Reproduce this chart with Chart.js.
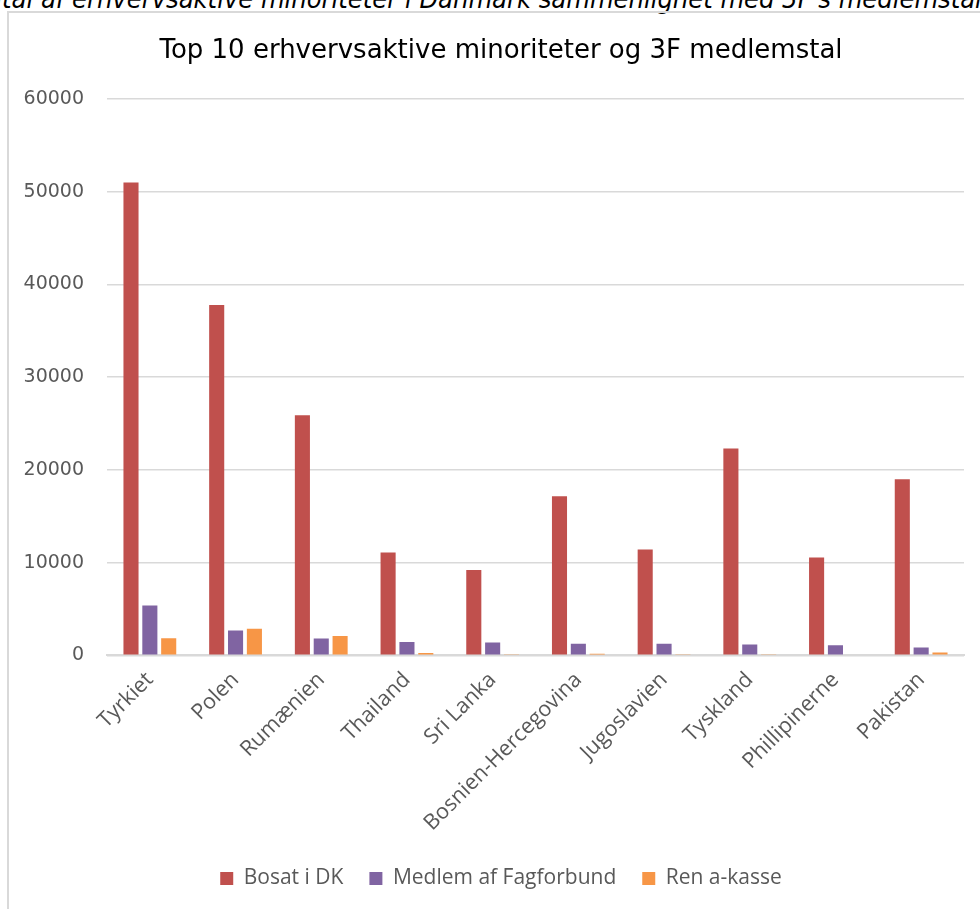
<!DOCTYPE html>
<html>
<head>
<meta charset="utf-8">
<script src="https://cdn.jsdelivr.net/npm/chart.js@4"></script>
<style>
  body { margin: 0; background: #fff; overflow: hidden; }
  #caption {
    position: absolute; left: -30px; top: -15px; white-space: nowrap;
    font-family: "DejaVu Sans Condensed", "DejaVu Sans"; font-style: italic;
    font-size: 27px; line-height: 27px; color: #000;
  }
  #frame {
    position: absolute; left: 7px; top: 11px; width: 1000px; height: 920px;
    border: 2px solid #d9d9d9;
  }
  #wrap { position: absolute; left: 0; top: 0; width: 973px; height: 898px; }
</style>
</head>
<body>
<div id="caption">Antal af erhvervsaktive minoriteter i Danmark sammenlignet med 3F's medlemstal</div>
<div id="frame">
  <div id="wrap"><canvas id="grafica"></canvas></div>
</div>
<script>
var lande = ['Tyrkiet', 'Polen', 'Rumænien', 'Thailand', 'Sri Lanka', 'Bosnien-Hercegovina', 'Jugoslavien', 'Tyskland', 'Phillipinerne', 'Pakistan'];
var bosatIDK = [51000, 37800, 25900, 11100, 9200, 17150, 11400, 22300, 10550, 19000];
var medlemFagforbund = [5360, 2680, 1800, 1440, 1370, 1250, 1250, 1160, 1080, 830];
var renAkasse = [1830, 2850, 2080, 250, 60, 150, 60, 60, 80, 300];
var yTicks = [0, 10000, 20000, 30000, 40000, 50000, 60000];

var fnt = '"Open Sans", sans-serif';
var ctx = document.getElementById('grafica').getContext('2d');
var chart = new Chart(ctx, {
    type: 'bar',
    data: {
        labels: lande,
        datasets: [
            { label: 'Bosat i DK', data: bosatIDK, backgroundColor: '#C0504D' },
            { label: 'Medlem af Fagforbund', data: medlemFagforbund, backgroundColor: '#8064A2' },
            { label: 'Ren a-kasse', data: renAkasse, backgroundColor: '#F79646' }
        ]
    },
    options: {
        responsive: true,
        maintainAspectRatio: false,
        animation: false,
        layout: { autoPadding: false, padding: { left: 29, right: 18, top: 14, bottom: 12 } },
        datasets: { bar: { categoryPercentage: 0.66, barPercentage: 0.8 } },
        scales: {
            x: {
                afterFit: function (scale) { scale.height -= 6; },
                grid: { display: false, drawTicks: false },
                border: { color: '#d9d9d9', width: 2 },
                ticks: {
                    maxRotation: 45, minRotation: 45, padding: 12,
                    color: '#595959', font: { family: fnt, size: 21.5 }
                }
            },
            y: {
                min: 0, max: 60000,
                afterBuildTicks: function (axis) {
                    axis.ticks = yTicks.map(function (v) { return { value: v }; });
                },
                afterFit: function (scale) {
                    scale.width = 69;
                    // labels sit partly left of the axis box, so don't clip them
                    scale._computeLabelArea = function () { return null; };
                },
                grid: { color: '#d9d9d9', lineWidth: 1.5, drawTicks: false },
                border: { display: false },
                ticks: {
                    padding: 23, color: '#595959',
                    font: { family: '"DejaVu Sans", sans-serif', size: 19 },
                    callback: function (v) { return String(v); }
                }
            }
        },
        plugins: {
            title: {
                display: true,
                text: 'Top 10 erhvervsaktive minoriteter og 3F medlemstal',
                color: '#000', font: { family: '"DejaVu Sans", sans-serif', size: 26, weight: 'normal' },
                padding: { top: 9, bottom: 32 }
            },
            legend: {
                position: 'bottom',
                labels: {
                    boxWidth: 13, boxHeight: 13, padding: 26,
                    color: '#595959', font: { family: fnt, size: 21 }
                }
            },
            tooltip: { enabled: false }
        }
    }
});
</script>
</body>
</html>
